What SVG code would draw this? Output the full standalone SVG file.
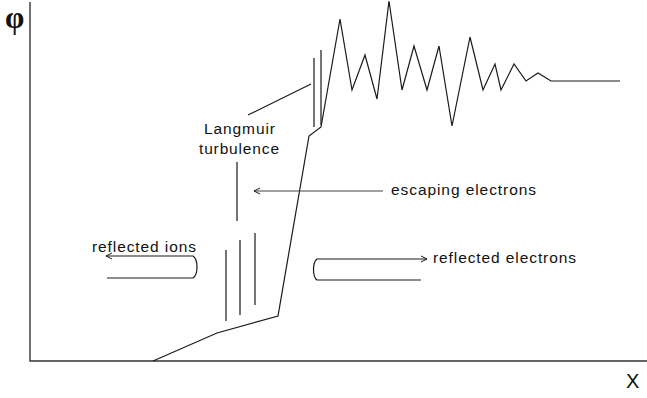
<svg xmlns="http://www.w3.org/2000/svg" width="647" height="398" viewBox="0 0 647 398">
  <style>
    .ln { fill: none; stroke: #1a1a1a; stroke-width: 1.2; stroke-linejoin: miter; }
    .ax { fill: none; stroke: #333; stroke-width: 1.4; }
    .gr { fill: none; stroke: #444; stroke-width: 1.2; }
    .lbl { font-family: "Liberation Sans", Arial, sans-serif; font-size: 15.5px; fill: #111; }
  </style>
  <defs>
    <marker id="open" viewBox="0 0 8 8" refX="7" refY="4" markerWidth="8" markerHeight="8" markerUnits="userSpaceOnUse" orient="auto">
      <path d="M1,1 L7,4 L1,7" fill="none" stroke="#1a1a1a" stroke-width="1"/>
    </marker>
  </defs>
  <rect width="647" height="398" fill="#fff"/>

  <!-- axes -->
  <g id="axes">
    <path class="ax" d="M30,2 V361 H647"/>
    <text x="5" y="28" font-family="Liberation Serif, 'Times New Roman', serif" font-size="31" font-weight="bold" fill="#111">φ</text>
    <text x="626" y="388" font-family="Liberation Sans, Arial, sans-serif" font-size="20" fill="#111">X</text>
  </g>

  <!-- potential profile -->
  <g id="potential">
    <polyline class="ln" points="153,361 217,333 278,316 309,136 321,127 340,19 352,90 365,55 377,99 389,1 402,90 414,46 427,90 439,46 452,126 470,37 483,90 495,64 501,90 514,64 526,81 538,73 551,81 620,81"/>
  </g>

  <!-- Langmuir turbulence -->
  <g id="langmuir">
    <path class="ln" d="M314,58 V127 M321,50 V125"/>
    <path class="ln" d="M226,250 V321 M240,240 V315 M255,233 V305"/>
    <path class="ln" d="M237,162 V221"/>
    <text class="lbl" x="204" y="134" textLength="71" lengthAdjust="spacing">Langmuir</text>
    <text class="lbl" x="199" y="154" textLength="80" lengthAdjust="spacing">turbulence</text>
  </g>

  <!-- escaping electrons -->
  <g id="escaping">
    <text class="lbl" x="391" y="195" textLength="145" lengthAdjust="spacing">escaping electrons</text>
  </g>

  <!-- reflected ions -->
  <g id="reflected-ions">
    <text class="lbl" x="92" y="252" textLength="104" lengthAdjust="spacing">reflected ions</text>
  </g>

  <!-- reflected electrons -->
  <g id="reflected-electrons">
    <text class="lbl" x="433" y="263" textLength="143" lengthAdjust="spacing">reflected electrons</text>
  </g>

  <g id="connectors">
    <path class="ln" d="M248,115 L311,84"/>
    <path class="gr" d="M383,191 H254" marker-end="url(#open)"/>
    <path class="ln" d="M107,278 H193 C196,276 197,272 197,267 C197,262 196,258 193,256 H106" marker-end="url(#open)"/>
    <path class="ln" d="M421,280 H317 C314.5,278 313.5,274 313.5,269.5 C313.5,265 314.5,261 317,259 H427" marker-end="url(#open)"/>
  </g>
</svg>
